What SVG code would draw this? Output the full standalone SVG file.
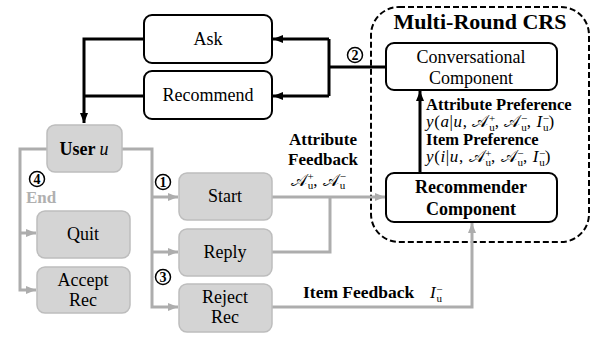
<svg xmlns="http://www.w3.org/2000/svg" width="597" height="337" viewBox="0 0 597 337">
<style>
text{font-family:"Liberation Serif","DejaVu Serif",serif;fill:#000}
.lbl{font-size:18px;text-anchor:middle}
.b{font-weight:bold}
.bx{fill:#fff;stroke:#000;stroke-width:2}
.gbx{fill:#d4d4d4;stroke:#bdbdbd;stroke-width:1.5}
.k{fill:none;stroke:#000;stroke-width:3}
.g{fill:none;stroke:#adadad;stroke-width:3}
.num{fill:#fff;stroke:#000;stroke-width:1.5}
.numt{font-size:14px;font-weight:bold;text-anchor:middle}
.it{font-style:italic}
.sm{font-size:11px;letter-spacing:0}
.math{font-size:17px;letter-spacing:0.6px}
</style>
<defs>
<marker id="ak" markerUnits="userSpaceOnUse" markerWidth="10" markerHeight="10" refX="10" refY="5" orient="auto"><path d="M0,1 L10,5 L0,9 z" fill="#000"/></marker>
<marker id="ag" markerUnits="userSpaceOnUse" markerWidth="10" markerHeight="10" refX="10" refY="5" orient="auto"><path d="M0,1 L10,5 L0,9 z" fill="#adadad"/></marker>
</defs>

<g id="crs">
<rect x="371" y="7" width="218" height="235" rx="28" fill="none" stroke="#000" stroke-width="2" stroke-dasharray="6,3"/>
<text x="480" y="29" font-size="22" font-weight="bold" text-anchor="middle">Multi-Round CRS</text>
</g>

<g id="connectors">
<path class="k" d="M144,39 H84 V123" marker-end="url(#ak)"/>
<path class="k" d="M144,96 H84"/>
<path class="k" d="M386,67 H329"/>
<path class="k" d="M329,39 V96"/>
<path class="k" d="M329,39 H273" marker-end="url(#ak)"/>
<path class="k" d="M329,96 H273" marker-end="url(#ak)"/>
<path class="k" d="M420,173 V91" marker-end="url(#ak)"/>
<path class="g" d="M47,149 H20 V290 H36" marker-end="url(#ag)"/>
<path class="g" d="M20,233 H36" marker-end="url(#ag)"/>
<path class="g" d="M122,149 H152 V307 H178" marker-end="url(#ag)"/>
<path class="g" d="M152,197 H178" marker-end="url(#ag)"/>
<path class="g" d="M152,252 H178" marker-end="url(#ag)"/>
<path class="g" d="M272,197 H385" marker-end="url(#ag)"/>
<path class="g" d="M272,252 H330 V197"/>
<path class="g" d="M272,307 H472 V223" marker-end="url(#ag)"/>
</g>

<g id="ask"><rect class="bx" x="144" y="15" width="128" height="48" rx="8"/><text class="lbl" x="208" y="45">Ask</text></g>
<g id="recommend"><rect class="bx" x="144" y="71" width="128" height="48" rx="8"/><text class="lbl" x="208" y="101">Recommend</text></g>
<g id="conversational"><rect class="bx" x="386" y="43" width="171" height="47" rx="8"/><text class="lbl" x="471" y="63">Conversational</text><text class="lbl" x="471" y="84">Component</text></g>
<g id="recommender"><rect class="bx" x="386" y="173" width="171" height="49" rx="8"/><text class="lbl b" x="471" y="193">Recommender</text><text class="lbl b" x="471" y="215">Component</text></g>

<g id="user"><rect class="gbx" x="47" y="125" width="75" height="47" rx="8"/><text class="lbl b" x="84" y="155">User <tspan class="it" font-weight="normal">u</tspan></text></g>
<g id="quit"><rect class="gbx" x="37" y="211" width="93" height="47" rx="8"/><text class="lbl" x="83" y="240">Quit</text></g>
<g id="accept"><rect class="gbx" x="37" y="267" width="93" height="46" rx="8"/><text class="lbl" x="83" y="286">Accept</text><text class="lbl" x="83" y="306">Rec</text></g>
<g id="start"><rect class="gbx" x="179" y="173" width="93" height="47" rx="8"/><text class="lbl" x="225" y="202">Start</text></g>
<g id="reply"><rect class="gbx" x="179" y="229" width="93" height="47" rx="8"/><text class="lbl" x="225" y="258">Reply</text></g>
<g id="reject"><rect class="gbx" x="179" y="284" width="93" height="48" rx="8"/><text class="lbl" x="225" y="303">Reject</text><text class="lbl" x="225" y="323">Rec</text></g>

<g id="num1"><circle class="num" cx="163" cy="182" r="7.5"/><text class="numt" x="163" y="187">1</text></g>
<g id="num2"><circle class="num" cx="355" cy="55" r="7.5"/><text class="numt" x="355" y="60">2</text></g>
<g id="num3"><circle class="num" cx="163" cy="277" r="7.5"/><text class="numt" x="163" y="282">3</text></g>
<g id="num4"><circle class="num" cx="37" cy="179" r="7.5"/><text class="numt" x="37" y="184">4</text></g>
<text x="26" y="203" font-size="17" font-weight="bold" style="fill:#b0b0b0">End</text>

<g id="labels">
<text class="b" x="323" y="145" font-size="17" text-anchor="middle">Attribute</text>
<text class="b" x="323" y="165" font-size="17" text-anchor="middle">Feedback</text>
<text class="math" x="291" y="186">𝒜<tspan class="sm" dy="-6">+</tspan><tspan class="sm" dx="-6" dy="9">u</tspan><tspan dy="-3">, 𝒜</tspan><tspan class="sm" dy="-6">−</tspan><tspan class="sm" dx="-6" dy="9">u</tspan></text>
<text class="b" x="426" y="110" font-size="16.5">Attribute Preference</text>
<text class="math" x="426" y="127"><tspan class="it">y</tspan>(<tspan class="it">a</tspan>|<tspan class="it">u</tspan>, 𝒜<tspan class="sm" dy="-5">+</tspan><tspan class="sm" dx="-6" dy="9">u</tspan><tspan dy="-4">, 𝒜</tspan><tspan class="sm" dy="-5">−</tspan><tspan class="sm" dx="-6" dy="9">u</tspan><tspan dy="-4">, </tspan><tspan class="it">I</tspan><tspan class="sm" dy="-5">−</tspan><tspan class="sm" dx="-6" dy="9">u</tspan><tspan dy="-4">)</tspan></text>
<text class="b" x="426" y="145" font-size="16.5">Item Preference</text>
<text class="math" x="426" y="162"><tspan class="it">y</tspan>(<tspan class="it">i</tspan>|<tspan class="it">u</tspan>, 𝒜<tspan class="sm" dy="-5">+</tspan><tspan class="sm" dx="-6" dy="9">u</tspan><tspan dy="-4">, 𝒜</tspan><tspan class="sm" dy="-5">−</tspan><tspan class="sm" dx="-6" dy="9">u</tspan><tspan dy="-4">, </tspan><tspan class="it">I</tspan><tspan class="sm" dy="-5">−</tspan><tspan class="sm" dx="-6" dy="9">u</tspan><tspan dy="-4">)</tspan></text>
<text class="b" x="303" y="298" font-size="17.5">Item Feedback</text>
<text class="math" x="430" y="298"><tspan class="it">I</tspan><tspan class="sm" dy="-5">−</tspan><tspan class="sm" dx="-6" dy="9">u</tspan></text>
</g>
</svg>
